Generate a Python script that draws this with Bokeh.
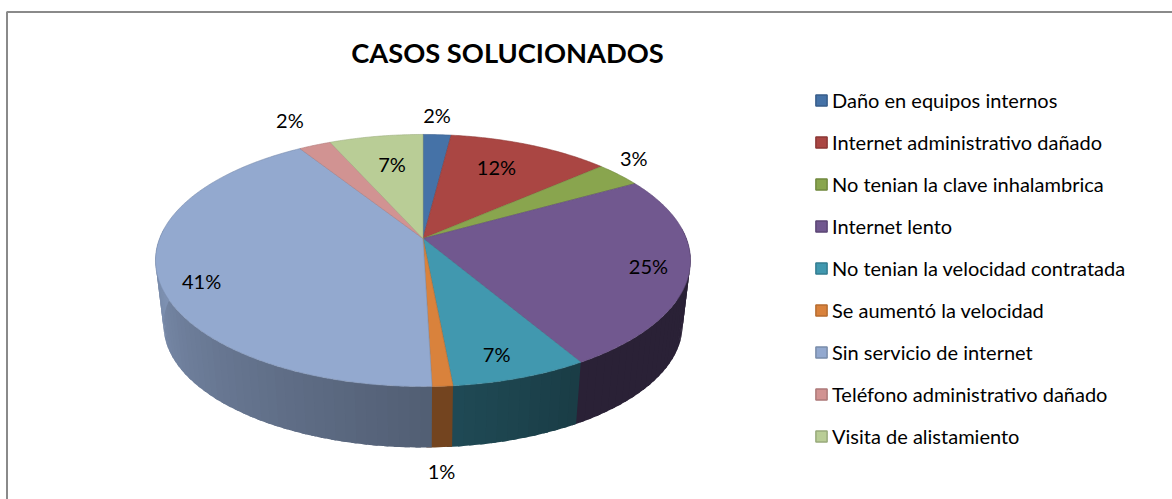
import math
from bokeh.core.properties import value
from bokeh.embed import file_html
from bokeh.models import Legend, LegendItem, Range1d
from bokeh.plotting import figure
from bokeh.resources import INLINE

TITLE = "CASOS SOLUCIONADOS"
categories = [
    "Daño en equipos internos",
    "Internet administrativo dañado",
    "No tenian la clave inhalambrica",
    "Internet lento",
    "No tenian la velocidad contratada",
    "Se aumentó la velocidad",
    "Sin servicio de internet",
    "Teléfono administrativo dañado",
    "Visita de alistamiento",
]
values = [2.0, 11.6, 3.3, 24.6, 7.0, 1.05, 41.45, 2.3, 6.7]

# styles
colors = ["#4572A7", "#AA4643", "#89A54E", "#71588F", "#4198AF", "#D9823C", "#93A9CF", "#D19392", "#B9CD96"]
edges = ["#385D8A", "#8C3836", "#71893F", "#5C4776", "#357D91", "#B66D31", "#7A8DAA", "#AD7A79", "#99AA7C"]
# side-wall lighting at the start and end of each slice
shade = [(.5, .5), (.5, .5), (.5, .5), (.38, .38), (.40, .49), (.53, .53), (.56, .88), (.8, .8), (.8, .8)]
# label offset in px from the rim point at the slice's mid angle
label_offset = [(0, -20), (-34, 22), (15, -17), (-41, -6), (-24, -24), (-1, 85), (44, 5), (-25, -25), (16, 28)]

W, H = 1172, 499
CX, CY, R, B, K = 422.5, 238.0, 263.4, 122.2, 0.1746
DEPTH_Y, DEPTH_S = 65.4, 0.97
NAN = float("nan")


def rim(a_deg, low=False):
    a = math.radians(a_deg)
    s = DEPTH_S if low else 1.0
    y0 = CY + (DEPTH_Y if low else 0.0)
    den = 1 + K * math.cos(a)
    return CX + s * R * math.sin(a) / den, y0 - s * B * math.cos(a) / den


def mix(col, f):
    r, g, b = (int(col[i:i + 2], 16) for i in (1, 3, 5))
    return "#%02x%02x%02x" % (int(r * f), int(g * f), int(b * f))


total = sum(values)
cum = [0.0]
for v in values:
    cum.append(cum[-1] + v)
ang = [c / total * 360 for c in cum]

p = figure(width=W, height=H, x_range=Range1d(0, W), y_range=Range1d(H, 0),
           output_backend="svg", toolbar_location=None, min_border=0,
           margin=(0, 0, 0, 0), outline_line_color=None,
           background_fill_color="white", border_fill_color="white")
p.axis.visible = False
p.grid.visible = False

# frame of the chart area: only its top and left edges show
p.line([6.5, 6.5, W], [H, 11.5, 11.5], line_color="#8A8A8A", line_width=2)

# side wall as narrow strips, front of pie only; each overlaps the next to hide seams
LO, HI = 85.0, 275.0
xs, ys, cs = [], [], []
for i in range(len(values)):
    a0, a1 = max(ang[i], LO), min(ang[i + 1], HI)
    if a1 <= a0:
        continue
    n = max(1, int((a1 - a0) / 2))
    for j in range(n):
        t0, t1 = a0 + (a1 - a0) * j / n, a0 + (a1 - a0) * (j + 1) / n
        t2 = min(t1 + 1.0, HI)
        f = shade[i][0] + (shade[i][1] - shade[i][0]) * (j + .5) / n
        pts = [rim(t0)] + [rim(t0 + (t2 - t0) * q / 3) for q in (1, 2, 3)] + \
              [rim(t0 + (t2 - t0) * q / 3, True) for q in (3, 2, 1)] + [rim(t0, True)]
        xs.append([q[0] for q in pts])
        ys.append([q[1] for q in pts])
        cs.append(mix(colors[i], f))
p.patches(xs, ys, fill_color=cs, line_color=None)

# top face
for i in range(len(values)):
    n = max(2, int(ang[i + 1] - ang[i]) * 2)
    pts = [rim(ang[i] + (ang[i + 1] - ang[i]) * j / n) for j in range(n + 1)]
    p.patch([CX] + [q[0] for q in pts], [CY] + [q[1] for q in pts],
            fill_color=colors[i], line_color=mix(colors[i], .85), line_width=0.6)

# data labels
lx, ly, lt = [], [], []
for i, v in enumerate(values):
    x, y = rim((ang[i] + ang[i + 1]) / 2)
    lx.append(x + label_offset[i][0])
    ly.append(y + label_offset[i][1])
    lt.append("%d%%" % round(v / total * 100))
p.text(lx, ly, text=lt, text_font=value("Lato"), text_font_size="20px", text_color="black",
       text_align="center", text_baseline="middle")

p.text([507], [52], text=[TITLE], text_font=value("Lato"), text_font_size="27.3px",
       text_font_style="bold", text_color="black", text_align="center", text_baseline="middle")

# legend
items = []
for c, col, edge in zip(categories, colors, edges):
    r = p.quad(left=[NAN], right=[NAN], top=[NAN], bottom=[NAN], fill_color=col, line_color=edge, line_width=1.5)
    items.append(LegendItem(label=c, renderers=[r]))
legend = Legend(items=items, location=(814, H - 448), orientation="vertical",
                glyph_width=14, glyph_height=14, label_height=20, label_standoff=4,
                spacing=18, padding=0, margin=0, border_line_color=None,
                background_fill_alpha=0, label_text_font="Lato", label_text_font_size="20px",
                label_text_color="black")
p.add_layout(legend, "center")

open("out.html", "w").write(file_html(p, INLINE))
